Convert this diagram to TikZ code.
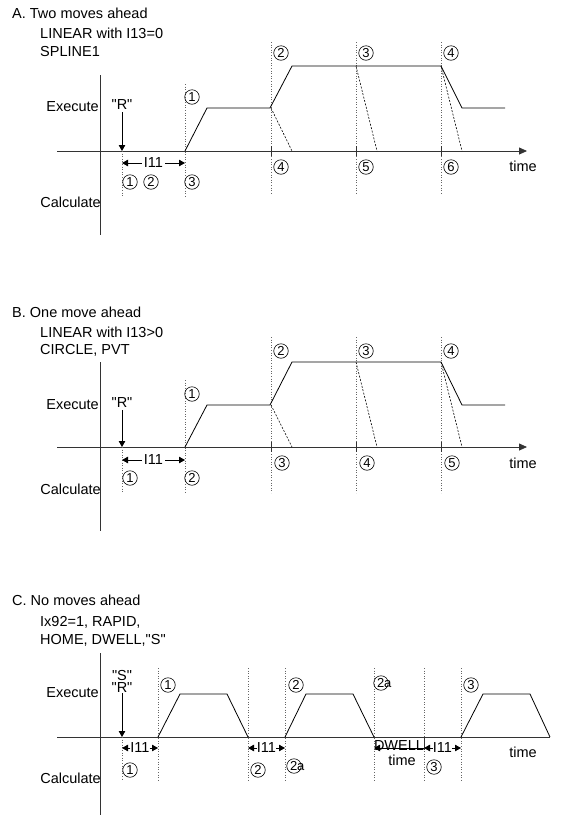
\documentclass[tikz,border=0pt]{standalone}
\usepackage{fontspec}
\newfontfamily\plainsans{Liberation Sans}
\usetikzlibrary{arrows.meta}

\begin{document}
\begin{tikzpicture}[x=1pt,y=-1pt,
    every node/.style={font=\plainsans\fontsize{14.5}{16}\selectfont,inner sep=0pt},
    lbl/.style={anchor=west},
    axis/.style={line width=0.8pt,draw=black!80},
    timeaxis/.style={axis,-{Triangle[length=8pt,width=7pt]}},
    guide/.style={dotted,line width=0.6pt,draw=black!60},
    prof/.style={line width=0.8pt},
    ghost/.style={dash pattern=on 2pt off 1.5pt,line width=0.6pt},
    num/.style={circle,draw,line width=0.6pt,minimum size=14.5pt,inner sep=0pt,
                font=\plainsans\fontsize{13}{13}\selectfont},
    dim/.style={-{Triangle[length=6pt,width=6.5pt]},line width=0.8pt},
    drop/.style={-{Triangle[length=6pt,width=6.5pt]},line width=0.8pt},
  ]
  \useasboundingbox (0,0) rectangle (563,815);

  % A. two moves ahead
  \node[lbl] (titleA) at (12,13) {A. Two moves ahead};
  \node[lbl] (modeA1) at (40,33) {LINEAR with I13=0};
  \node[lbl] (modeA2) at (40,52) {SPLINE1};
  \draw[axis] (100,75) -- (100,235);
  \draw[timeaxis] (57,151) -- (527,151);
  \node[anchor=east] (execA) at (99,107) {Execute};
  \node[anchor=east] (calcA) at (101,202) {Calculate};
  \node (timeA) at (523,166) {time};
  \foreach \x/\t/\b in {122/151/197,185/84/197,271/42/195,356/42/195,441/42/195}
    \draw[guide] (\x,\t) -- (\x,\b);
  \foreach \x in {271,356,441}
    \draw[axis] (\x,146) -- (\x,156);
  \node[inner sep=2pt] (rA) at (122,105) {"R"};
  \coordinate (rA0) at (122,151);
  \draw[drop] (rA) -- (rA0);
  \coordinate (iA1) at (122,163);
  \coordinate (iA2) at (185,163);
  \node[inner sep=2pt] (iA) at (153.5,163) {I11};
  \draw[dim] (iA) -- (iA1);
  \draw[dim] (iA) -- (iA2);
  \draw[prof] (185,151) -- (207,108) -- (270,108) -- (292,66) -- (441,66)
    -- (462,108) -- (505,108);
  \draw[ghost] (271,108) -- (292,151);
  \draw[ghost] (356,66) -- (377,151);
  \draw[ghost] (441,66) -- (462,151);
  \node[num] (exA1) at (192,97) {1};
  \node[num] (exA2) at (281,53) {2};
  \node[num] (exA3) at (366,53) {3};
  \node[num] (exA4) at (451,53) {4};
  \node[num] (clA1) at (130,182) {1};
  \node[num] (clA2) at (151,182) {2};
  \node[num] (clA3) at (192,182) {3};
  \node[num] (clA4) at (281,167) {4};
  \node[num] (clA5) at (366,167) {5};
  \node[num] (clA6) at (451,167) {6};

  % B. one move ahead
  \begin{scope}[shift={(0,296)}]
    \node[lbl] (titleB) at (12,16) {B. One move ahead};
    \node[lbl] (modeB1) at (40,36) {LINEAR with I13>0};
    \node[lbl] (modeB2) at (40,54) {CIRCLE, PVT};
    \draw[axis] (100,66) -- (100,235);
    \draw[timeaxis] (57,151) -- (527,151);
    \node[anchor=east] (execB) at (99,109) {Execute};
    \node[anchor=east] (calcB) at (101,193) {Calculate};
    \node (timeB) at (523,167) {time};
    \foreach \x/\t/\b in {122/151/197,185/84/197,271/41/197,356/41/197,441/41/197}
      \draw[guide] (\x,\t) -- (\x,\b);
    \foreach \x in {271,356,441}
      \draw[axis] (\x,146) -- (\x,156);
    \node[inner sep=2pt] (rB) at (122,107) {"R"};
    \coordinate (rB0) at (122,151);
    \draw[drop] (rB) -- (rB0);
    \coordinate (iB1) at (122,164);
    \coordinate (iB2) at (185,164);
    \node[inner sep=2pt] (iB) at (153.5,164) {I11};
    \draw[dim] (iB) -- (iB1);
    \draw[dim] (iB) -- (iB2);
    \draw[prof] (185,151) -- (207,109) -- (270,109) -- (292,66) -- (441,66)
      -- (462,109) -- (505,109);
    \draw[ghost] (271,109) -- (292,151);
    \draw[ghost] (356,66) -- (377,151);
    \draw[ghost] (441,66) -- (462,151);
    \node[num] (exB1) at (192,98) {1};
    \node[num] (exB2) at (281,55) {2};
    \node[num] (exB3) at (366,55) {3};
    \node[num] (exB4) at (451,55) {4};
    \node[num] (clB1) at (130,182) {1};
    \node[num] (clB2) at (192,182) {2};
    \node[num] (clB3) at (282,167) {3};
    \node[num] (clB4) at (367,167) {4};
    \node[num] (clB5) at (452,167) {5};
  \end{scope}

  % C. no moves ahead
  \begin{scope}[shift={(0,586)}]
    \node[lbl] (titleC) at (12,14) {C. No moves ahead};
    \node[lbl] (modeC1) at (40,36) {Ix92=1, RAPID,};
    \node[lbl] (modeC2) at (40,54) {HOME, DWELL,"S"};
    \draw[axis] (100,67) -- (100,229);
    \draw[axis] (57,151) -- (550,151);
    \node[anchor=east] (execC) at (99,107) {Execute};
    \node[anchor=east] (calcC) at (101,192) {Calculate};
    \node (timeC) at (523,166) {time};
    \foreach \x/\t in {122/151,158/82,248/82,285/82,374/82,424/82,461/82}
      \draw[guide] (\x,\t) -- (\x,194);
    \draw[axis] (424,151) -- (424,164);
    \node (sC) at (122,89) {"S"};
    \node (rC) at (122,102) {"R"};
    \coordinate (rC0) at (122,151);
    \draw[drop] (rC) -- (rC0);
    % I11 and dwell spans
    \coordinate (dC1) at (122,162);
    \coordinate (dC2) at (158,162);
    \coordinate (dC3) at (248,162);
    \coordinate (dC4) at (285,162);
    \coordinate (dC5) at (374,162);
    \coordinate (dC6) at (424,162);
    \coordinate (dC7) at (461,162);
    \node (iC1) at (140,162) {I11};
    \draw[dim] (iC1) -- (dC1);
    \draw[dim] (iC1) -- (dC2);
    \node (iC2) at (266.5,162) {I11};
    \draw[dim] (iC2) -- (dC3);
    \draw[dim] (iC2) -- (dC4);
    \node (iC3) at (442.5,162) {I11};
    \draw[dim] (iC3) -- (dC6);
    \draw[dim] (iC3) -- (dC7);
    \draw[dim,{Triangle[length=6pt,width=6.5pt]}-] (dC5) -- (dC6);
    \node (dwC) at (399,160) {DWELL};
    \node (dwtC) at (402,174) {time};
    \draw[prof] (158,151) -- (180,108) -- (227,108) -- (248,151);
    \draw[prof] (285,151) -- (306,108) -- (353,108) -- (374,151);
    \draw[prof] (461,151) -- (483,108) -- (530,108) -- (550,151);
    \node[num] (exC1) at (168,99) {1};
    \node[num] (exC2) at (296,99) {2};
    \node[num] (exC2a) at (381,97) {\makebox[8pt][l]{2a}};
    \node[num] (exC3) at (471,99) {3};
    \node[num] (clC1) at (130,184) {1};
    \node[num] (clC2) at (258,184) {2};
    \node[num] (clC2a) at (294,180) {\makebox[8pt][l]{2a}};
    \node[num] (clC3) at (434,181) {3};
  \end{scope}
\end{tikzpicture}
\end{document}
